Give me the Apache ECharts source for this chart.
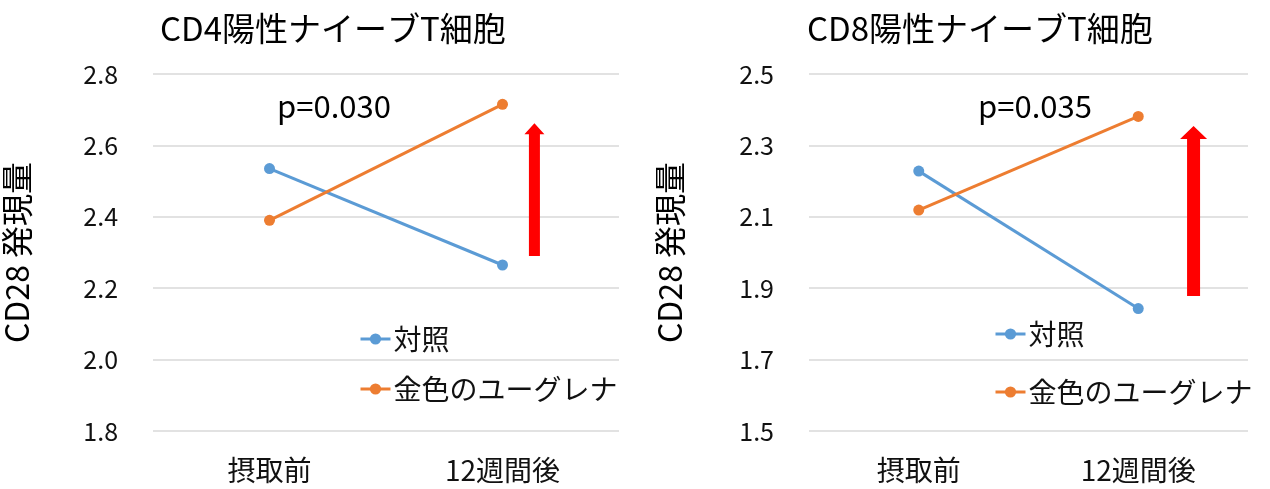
<!DOCTYPE html>
<html>
<head>
<meta charset="utf-8">
<script src="https://cdn.jsdelivr.net/npm/echarts@6/dist/echarts.min.js"></script>
<style>
  html, body { margin: 0; padding: 0; background: #fff; }
  #chart { width: 1270px; height: 489px; }
</style>
</head>
<body>
<div id="chart"></div>
<script>
// datos
const categories = ["摂取前", "12週間後"];
const seriesNames = ["対照", "金色のユーグレナ"];
const cd4Control = [2.535, 2.265];
const cd4Euglena = [2.39, 2.715];
const cd8Control = [2.228, 1.843];
const cd8Euglena = [2.119, 2.381];
// flecha roja: [categoría, inicio, punta]
const cd4Arrow = [[1, 2.29, 2.662]];
const cd8Arrow = [[1, 1.878, 2.354]];
const pTexts = ["p=0.030", "p=0.035"];

const FONT = "'Noto Sans CJK JP', 'Noto Sans', sans-serif";
const BLUE = "#5B9BD5";
const ORANGE = "#ED7D31";

function arrowRenderer(offset, shaftW, headW, headH) {
  return function (params, api) {
    const from = api.coord([api.value(0), api.value(1)]);
    const to = api.coord([api.value(0), api.value(2)]);
    const band = api.size([1, 0])[0];
    const x = from[0] + band * offset;
    const yb = from[1];
    const yt = to[1];
    return {
      type: "polygon",
      shape: {
        points: [
          [x - shaftW / 2, yb],
          [x - shaftW / 2, yt + headH],
          [x - headW / 2, yt + headH],
          [x, yt],
          [x + headW / 2, yt + headH],
          [x + shaftW / 2, yt + headH],
          [x + shaftW / 2, yb],
        ],
      },
      style: { fill: "#FF0000" },
    };
  };
}

function yAxis(idx, min, max, gap) {
  return {
    type: "value",
    gridIndex: idx,
    min: min,
    max: max,
    interval: 0.2,
    name: "CD28 発現量",
    nameLocation: "middle",
    nameGap: gap,
    nameTextStyle: { fontFamily: FONT, fontSize: 32, color: "#000" },
    axisLine: { show: false },
    axisTick: { show: false },
    axisLabel: {
      fontFamily: FONT,
      fontSize: 25,
      color: "#111",
      margin: 35,
      formatter: function (v) {
        return v.toFixed(1);
      },
    },
    splitLine: { lineStyle: { color: "#D9D9D9", width: 1.5 } },
  };
}

function xAxis(idx) {
  return {
    type: "category",
    gridIndex: idx,
    data: categories,
    boundaryGap: true,
    axisLine: { show: false },
    axisTick: { show: false },
    axisLabel: { fontFamily: FONT, fontSize: 28, color: "#111", margin: 25 },
  };
}

function lineSeries(name, color, idx, data) {
  return {
    name: name,
    type: "line",
    xAxisIndex: idx,
    yAxisIndex: idx,
    data: data,
    symbol: "circle",
    symbolSize: 11,
    lineStyle: { color: color, width: 3 },
    itemStyle: { color: color },
    z: 3,
  };
}

function legend(left, top, gap) {
  return {
    left: left,
    top: top,
    orient: "vertical",
    data: seriesNames,
    itemWidth: 30,
    itemHeight: 14,
    itemGap: gap,
    padding: 0,
    lineStyle: { width: 3 },
    textStyle: { fontFamily: FONT, fontSize: 28, color: "#111", padding: [0, 0, 0, -2] },
  };
}

const option = {
  animation: false,
  title: [
    {
      text: "CD4陽性ナイーブT細胞",
      left: 160,
      top: 12,
      padding: 0,
      textStyle: { fontFamily: FONT, fontSize: 33, fontWeight: "normal", color: "#000" },
    },
    {
      text: "CD8陽性ナイーブT細胞",
      left: 807,
      top: 12,
      padding: 0,
      textStyle: { fontFamily: FONT, fontSize: 33, fontWeight: "normal", color: "#000" },
    },
  ],
  legend: [legend(359, 325, 22), legend(994, 320, 30)],
  grid: [
    { left: 148, right: 651, top: 74, bottom: 58 },
    { left: 809, right: 22, top: 74, bottom: 58 },
  ],
  xAxis: [xAxis(0), xAxis(1)],
  yAxis: [yAxis(0, 1.8, 2.8, 120), yAxis(1, 1.5, 2.5, 123)],
  series: [
    lineSeries(seriesNames[0], BLUE, 0, cd4Control),
    lineSeries(seriesNames[1], ORANGE, 0, cd4Euglena),
    lineSeries(seriesNames[0], BLUE, 1, cd8Control),
    lineSeries(seriesNames[1], ORANGE, 1, cd8Euglena),
    {
      type: "custom",
      xAxisIndex: 0,
      yAxisIndex: 0,
      clip: false,
      data: cd4Arrow,
      encode: { x: 0, y: [1, 2] },
      renderItem: arrowRenderer(0.137, 11, 20, 11),
    },
    {
      type: "custom",
      xAxisIndex: 1,
      yAxisIndex: 1,
      clip: false,
      data: cd8Arrow,
      encode: { x: 0, y: [1, 2] },
      renderItem: arrowRenderer(0.252, 13, 27, 13),
    },
  ],
  graphic: [
    {
      type: "text",
      x: 277,
      y: 106,
      style: { text: pTexts[0], font: "31px " + FONT, fill: "#000", verticalAlign: "middle" },
    },
    {
      type: "text",
      x: 978,
      y: 106,
      style: { text: pTexts[1], font: "31px " + FONT, fill: "#000", verticalAlign: "middle" },
    },
  ],
};

var myChart = echarts.init(document.getElementById("chart"));
myChart.setOption(option);
</script>
</body>
</html>
